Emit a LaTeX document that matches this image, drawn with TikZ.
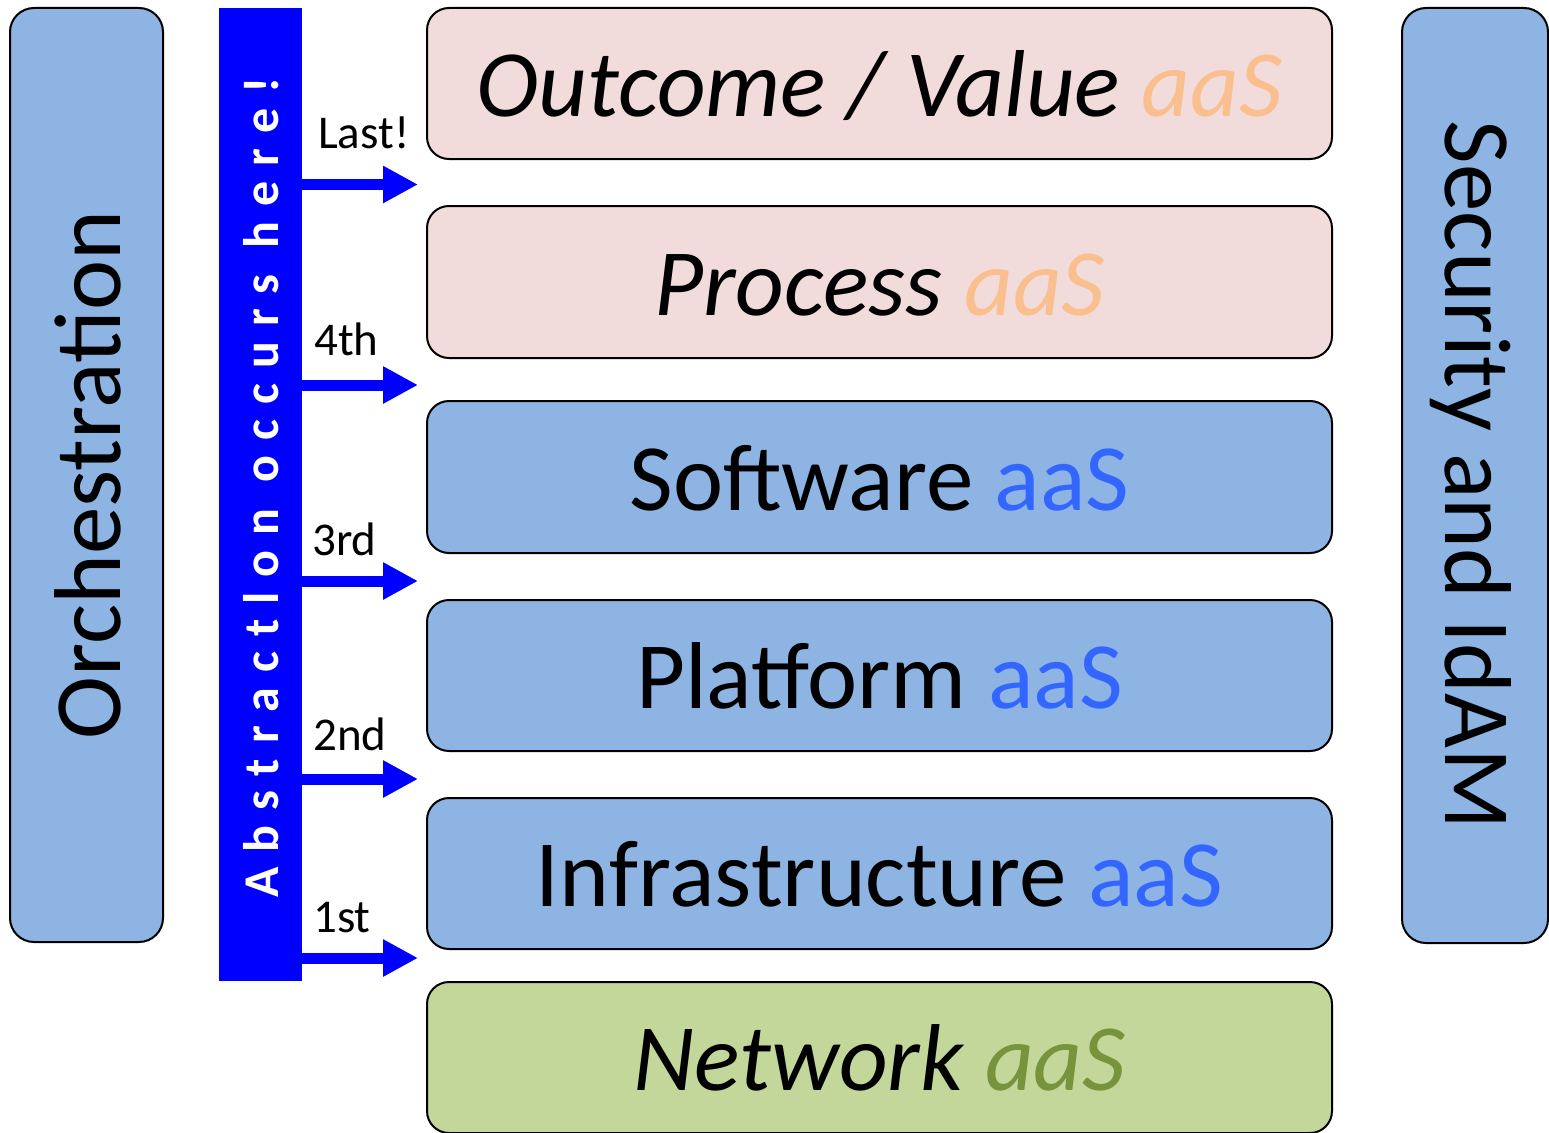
\documentclass[tikz,border=0pt]{standalone}
\usepackage{fontspec}
\setmainfont{Carlito}
\usetikzlibrary{arrows.meta}

\definecolor{pinkfill}{HTML}{F2DCDB}
\definecolor{bluefill}{HTML}{8DB4E2}
\definecolor{greenfill}{HTML}{C4D79B}
\definecolor{orangeaas}{HTML}{FABF8F}
\definecolor{blueaas}{HTML}{3366FF}
\definecolor{greenaas}{HTML}{77933C}
\definecolor{barblue}{HTML}{0000FF}

\tikzset{
  layer/.style={draw=black, line width=2pt, rounded corners=22pt,
    minimum width=905pt, minimum height=151pt, inner sep=0pt,
    text height=66pt, text depth=0pt, font=\fontsize{95}{95}\selectfont},
  sidebox/.style={draw=black, line width=2pt, rounded corners=24pt,
    fill=bluefill, inner sep=0pt, font=\fontsize{95}{95}\selectfont},
  flow/.style={draw=barblue, line width=11pt,
    -{Triangle[length=35pt,width=35pt]}},
  steplabel/.style={anchor=base west, inner sep=0pt,
    font=\fontsize{47}{47}\selectfont},
}

\begin{document}
\begin{tikzpicture}[x=1pt,y=-1pt]
\useasboundingbox (0,0) rectangle (1549,1132);

% left column: orchestration
\node[sidebox, rotate=90, minimum width=934pt, minimum height=153pt,
      text height=67pt, text depth=0pt] (orch) at (86.5,475) {Orchestration};

% right column: security
\node[sidebox, rotate=-90, minimum width=935pt, minimum height=146pt,
      text height=60pt, text depth=0pt] (sec) at (1475,475.5) {Security and IdAM};

% abstraction bar
\node[fill=barblue, inner sep=0pt, rotate=90, minimum width=973pt,
      minimum height=83pt, text height=36pt, text depth=0pt, text=white,
      font=\fontsize{50}{50}\selectfont\bfseries\addfontfeature{LetterSpace=30}]
      (bar) at (260.5,494.5) {\hspace*{14pt}Abstractlon occurs here!};

% service layers
\node[layer, fill=pinkfill] (outcome) at (879.5,83.5)
  {\itshape Outcome / Value \textcolor{orangeaas}{aaS}};
\node[layer, fill=pinkfill, minimum height=152pt] (process) at (879.5,282)
  {\itshape Process \textcolor{orangeaas}{aaS}};
\node[layer, fill=bluefill, minimum height=152pt] (software) at (879.5,477)
  {Software \textcolor{blueaas}{aaS}};
\node[layer, fill=bluefill] (platform) at (879.5,675.5)
  {Platform \textcolor{blueaas}{aaS}};
\node[layer, fill=bluefill] (infra) at (879.5,873.5)
  {Infrastructure \textcolor{blueaas}{aaS}};
\node[layer, fill=greenfill] (network) at (879.5,1057.5)
  {\itshape Network \textcolor{greenaas}{aaS}};

% arrow targets
\coordinate (tlast)  at (418,184.5);
\coordinate (tfour)  at (418,385);
\coordinate (tthree) at (418,581);
\coordinate (ttwo)   at (418,779);
\coordinate (tone)   at (418,958);

\draw[flow] (bar.south |- tlast)  -- (tlast);
\draw[flow] (bar.south |- tfour)  -- (tfour);
\draw[flow] (bar.south |- tthree) -- (tthree);
\draw[flow] (bar.south |- ttwo)   -- (ttwo);
\draw[flow] (bar.south |- tone)   -- (tone);

% step labels
\node[steplabel] (llast)  at (318,148) {Last!};
\node[steplabel] (lfour)  at (314,355) {4th};
\node[steplabel] (lthree) at (312,555) {3rd};
\node[steplabel] (ltwo)   at (313,750) {2nd};
\node[steplabel] (lone)   at (313,932) {1st};
\end{tikzpicture}
\end{document}
